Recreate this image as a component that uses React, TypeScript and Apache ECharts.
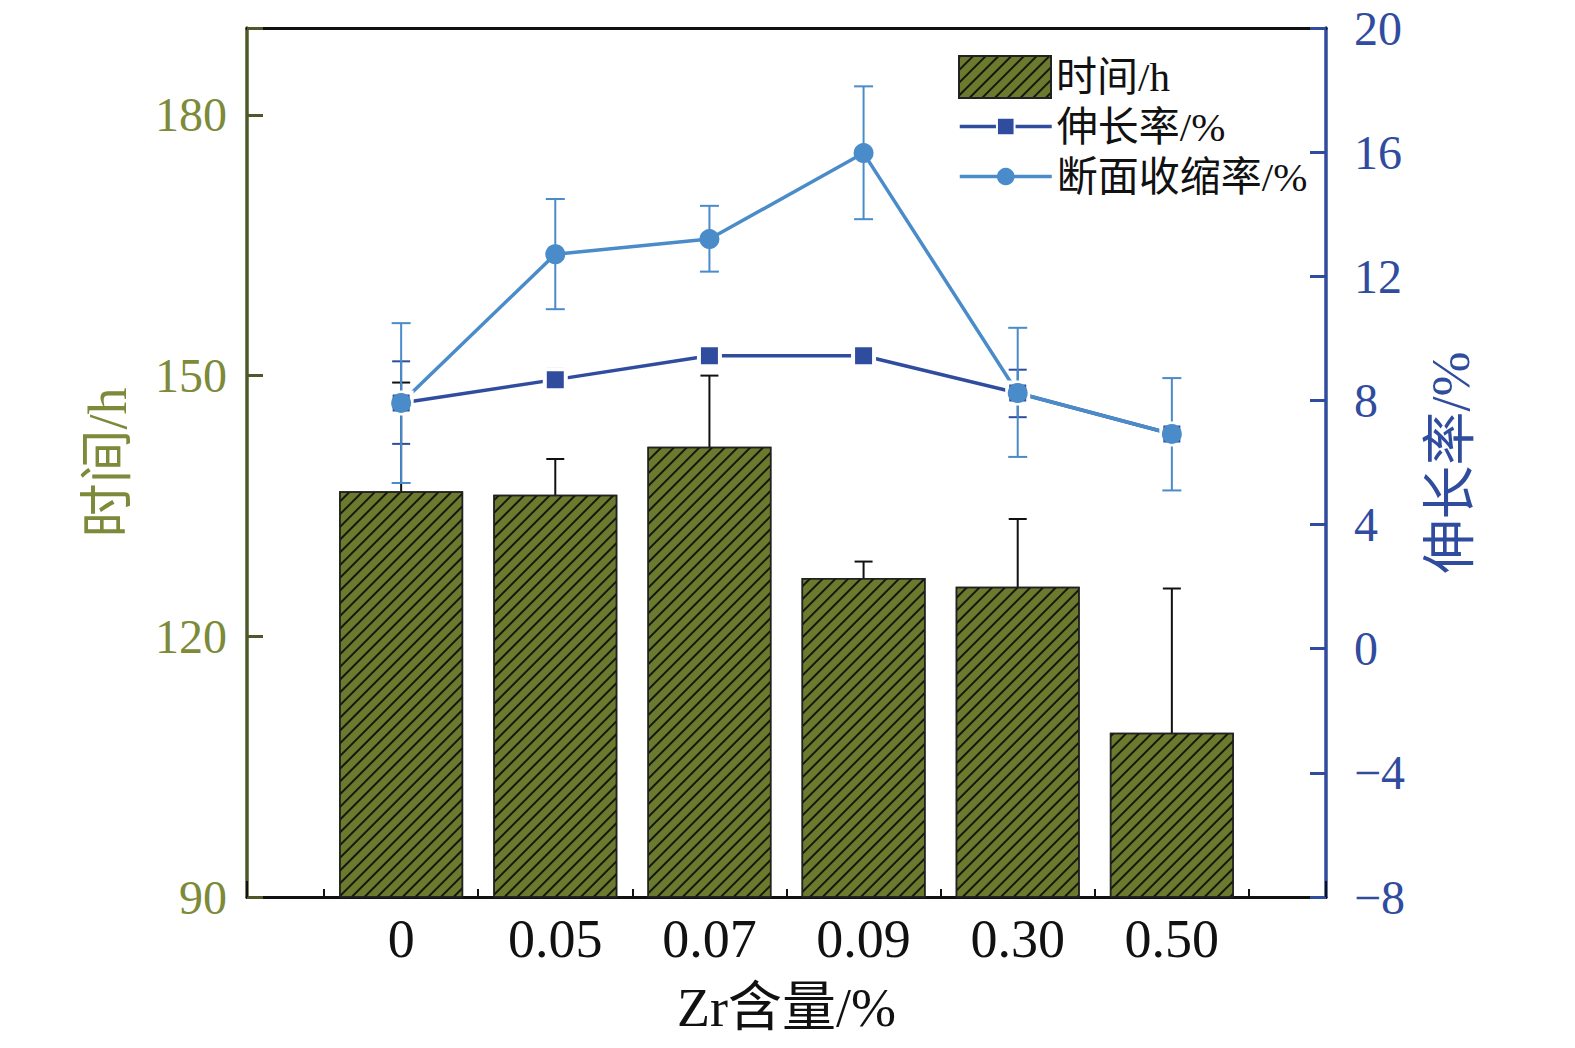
import React, { useEffect, useRef } from 'react';
import * as echarts from 'echarts';

const categories = ['0', '0.05', '0.07', '0.09', '0.30', '0.50'];
const timeValues = [136.7, 136.3, 141.8, 126.7, 125.7, 108.9];
const timeErrLow = [124.4, 132.2, 133.7, 124.9, 118.4, 92.3];
const timeErrHigh = [149.2, 140.4, 150.0, 128.6, 133.5, 125.5];
const elongation = [7.92, 8.67, 9.44, 9.44, 8.24, 6.92];
const elongErrLow = [6.6, 8.33, 9.3, 9.3, 7.46, 6.78];
const elongErrHigh = [9.26, 9.02, 9.58, 9.58, 8.99, 7.06];
const reduction = [7.92, 12.71, 13.2, 15.97, 8.24, 6.92];
const redErrLow = [5.34, 10.94, 12.15, 13.84, 6.18, 5.1];
const redErrHigh = [10.49, 14.49, 14.27, 18.12, 10.34, 8.72];

const leftTicks = { min: 90, max: 190, interval: 30 };
const rightTicks = { min: -8, max: 20, interval: 4 };

const OLIVE_LINE = '#4f5829';
const OLIVE_TEXT = '#7d8a3a';
const BAR_FILL = '#6b7a2e';
const DARK_BLUE = '#2f4c9e';
const LIGHT_BLUE = '#4a8bc9';
const FONT = '"Liberation Serif", "Noto Sans CJK SC", serif';

function errorRender(color: string, capW: number, lw: number) {
  return (params: any, api: any) => {
    const x = api.value(0);
    const lo = api.coord([x, api.value(1)]);
    const hi = api.coord([x, api.value(2)]);
    const st = { stroke: color, lineWidth: lw };
    return {
      type: 'group',
      children: [
        { type: 'line', shape: { x1: lo[0], y1: lo[1], x2: hi[0], y2: hi[1] }, style: st },
        { type: 'line', shape: { x1: lo[0] - capW / 2, y1: lo[1], x2: lo[0] + capW / 2, y2: lo[1] }, style: st },
        { type: 'line', shape: { x1: hi[0] - capW / 2, y1: hi[1], x2: hi[0] + capW / 2, y2: hi[1] }, style: st },
      ],
    };
  };
}

export default function App() {
  const ref = useRef<HTMLDivElement>(null);
  useEffect(() => {
    const chart = echarts.init(ref.current!, null, { renderer: 'svg' });
    const idx = categories.map((_, i) => i);
    const option: any = {
      animation: false,
      backgroundColor: '#ffffff',
      textStyle: { fontFamily: FONT },
      grid: { left: 247, right: 249, top: 28, bottom: 151, containLabel: false },
      legend: [
        {
          data: ['时间/h'],
          left: 953,
          top: 50,
          icon: 'rect',
          itemWidth: 92,
          itemHeight: 42,
          textStyle: { fontSize: 41, color: '#111', fontFamily: FONT },
          selectedMode: false,
        },
        {
          data: ['伸长率/%', '断面收缩率/%'],
          orient: 'vertical',
          left: 953,
          top: 101,
          itemWidth: 92,
          itemHeight: 22,
          itemGap: 9,
          lineStyle: { width: 3.5 },
          textStyle: { fontSize: 41, lineHeight: 41, color: '#111', fontFamily: FONT },
          selectedMode: false,
        },
      ],
      xAxis: [
        {
          type: 'value',
          min: -1,
          max: 6,
          interval: 1,
          position: 'bottom',
          name: 'Zr含量/%',
          nameLocation: 'middle',
          nameGap: 84,
          nameTextStyle: { fontSize: 54, color: '#111', fontFamily: FONT },
          axisLine: { show: true, onZero: false, lineStyle: { color: '#111', width: 3 } },
          axisTick: { show: true, inside: true, length: 16, lineStyle: { color: '#111', width: 2 } },
          minorTick: { show: true, splitNumber: 2, length: 8, lineStyle: { color: '#111', width: 2 } },
          axisLabel: {
            fontSize: 54,
            color: '#111',
            margin: 15,
            fontFamily: FONT,
            formatter: (v: number) => (categories[v] !== undefined ? categories[v] : ''),
          },
          splitLine: { show: false },
        },
        {
          type: 'value',
          min: -1,
          max: 6,
          interval: 1,
          position: 'top',
          axisLine: { show: true, onZero: false, lineStyle: { color: '#111', width: 3 } },
          axisTick: { show: false },
          axisLabel: { show: false },
          splitLine: { show: false },
        },
      ],
      yAxis: [
        {
          type: 'value',
          min: leftTicks.min,
          max: leftTicks.max,
          interval: leftTicks.interval,
          position: 'left',
          name: '时间/h',
          nameLocation: 'middle',
          nameRotate: 90,
          nameGap: 112,
          nameTextStyle: { fontSize: 54, color: OLIVE_TEXT, fontFamily: FONT },
          axisLine: { show: true, onZero: false, lineStyle: { color: OLIVE_LINE, width: 3.5 } },
          axisTick: { show: true, inside: true, length: 16, lineStyle: { color: OLIVE_LINE, width: 3 } },
          axisLabel: {
            fontSize: 48,
            color: OLIVE_TEXT,
            margin: 20,
            fontFamily: FONT,
            formatter: (v: number) => (v % leftTicks.interval === 0 ? String(v) : ''),
          },
          splitLine: { show: false },
        },
        {
          type: 'value',
          min: rightTicks.min,
          max: rightTicks.max,
          interval: rightTicks.interval,
          position: 'right',
          name: '伸长率/%',
          nameLocation: 'middle',
          nameRotate: 90,
          nameGap: 98,
          nameTextStyle: { fontSize: 54, color: DARK_BLUE, fontFamily: FONT },
          axisLine: { show: true, onZero: false, lineStyle: { color: DARK_BLUE, width: 3.5 } },
          axisTick: { show: true, inside: true, length: 16, lineStyle: { color: DARK_BLUE, width: 3 } },
          axisLabel: {
            fontSize: 48,
            color: DARK_BLUE,
            margin: 28,
            fontFamily: FONT,
            formatter: (v: number) => (v < 0 ? '\u2212' + Math.abs(v) : String(v)),
          },
          splitLine: { show: false },
        },
      ],
      series: [
        {
          name: '时间/h',
          type: 'bar',
          xAxisIndex: 0,
          yAxisIndex: 0,
          barWidth: 124,
          data: idx.map((i) => [i, timeValues[i]]),
          itemStyle: {
            color: BAR_FILL,
            borderColor: '#222',
            borderWidth: 1.5,
            decal: {
              symbol: 'rect',
              symbolSize: 1,
              dashArrayX: [1, 0],
              dashArrayY: [1.1, 6.4],
              rotation: -Math.PI / 4,
              color: 'rgba(0,0,0,0.8)',
            },
          },
        },
        {
          name: 'timeErr',
          type: 'custom',
          xAxisIndex: 0,
          yAxisIndex: 0,
          renderItem: errorRender('#111', 18, 2),
          encode: { x: 0, y: [1, 2] },
          data: idx.map((i) => [i, timeErrLow[i], timeErrHigh[i]]),
        },
        {
          name: '伸长率/%',
          type: 'line',
          xAxisIndex: 0,
          yAxisIndex: 1,
          symbol: 'rect',
          symbolSize: 21,
          data: idx.map((i) => [i, elongation[i]]),
          lineStyle: { color: DARK_BLUE, width: 3.5 },
          itemStyle: { color: DARK_BLUE, borderColor: '#ffffff', borderWidth: 4 },
        },
        {
          name: 'elongErr',
          type: 'custom',
          xAxisIndex: 0,
          yAxisIndex: 1,
          renderItem: errorRender(DARK_BLUE, 18, 2),
          encode: { x: 0, y: [1, 2] },
          data: idx.map((i) => [i, elongErrLow[i], elongErrHigh[i]]),
        },
        {
          name: '断面收缩率/%',
          type: 'line',
          xAxisIndex: 0,
          yAxisIndex: 1,
          symbol: 'circle',
          symbolSize: 20,
          data: idx.map((i) => [i, reduction[i]]),
          lineStyle: { color: LIGHT_BLUE, width: 3.5 },
          itemStyle: { color: LIGHT_BLUE },
        },
        {
          name: 'redErr',
          type: 'custom',
          xAxisIndex: 0,
          yAxisIndex: 1,
          renderItem: errorRender(LIGHT_BLUE, 19, 2),
          encode: { x: 0, y: [1, 2] },
          data: idx.map((i) => [i, redErrLow[i], redErrHigh[i]]),
        },
      ],
    };
    chart.setOption(option);
    return () => chart.dispose();
  }, []);
  return (
    <div
      ref={ref}
      style={{ position: 'fixed', left: 0, top: 0, width: 1575, height: 1048, background: '#fff' }}
    />
  );
}
